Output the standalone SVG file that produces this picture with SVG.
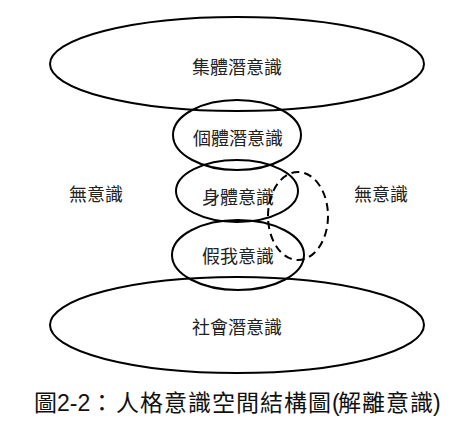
<svg xmlns="http://www.w3.org/2000/svg" width="469" height="432" viewBox="0 0 469 432">
<style>
.e{fill:none;stroke:#000;stroke-width:2}
.d{fill:none;stroke:#000;stroke-width:2;stroke-dasharray:8 5}
.t{font-family:"Noto Sans CJK TC","Noto Sans CJK SC",sans-serif;font-size:18px;fill:#222;text-anchor:middle;dominant-baseline:central}
.c{font-family:"Liberation Sans","Noto Sans CJK TC",sans-serif;font-size:23px;fill:#111}
</style>
<rect width="469" height="432" fill="#fff"/>
<g id="collective">
<ellipse class="e" cx="237" cy="64" rx="187" ry="47"/>
<text class="t" x="237" y="66">集體潛意識</text>
</g>
<g id="individual">
<ellipse class="e" cx="237" cy="135" rx="64" ry="35"/>
<text class="t" x="238" y="137">個體潛意識</text>
</g>
<g id="body">
<ellipse class="e" cx="237" cy="191" rx="61" ry="31"/>
<text class="t" x="238" y="196">身體意識</text>
</g>
<g id="falseself">
<ellipse class="e" cx="238" cy="255" rx="66" ry="35"/>
<text class="t" x="238" y="255">假我意識</text>
</g>
<g id="social">
<ellipse class="e" cx="237" cy="325" rx="187" ry="48"/>
<text class="t" x="237" y="326">社會潛意識</text>
</g>
<g id="unconscious-left">
<text class="t" x="96" y="193">無意識</text>
</g>
<g id="unconscious-right">
<text class="t" x="381" y="193">無意識</text>
</g>
<g id="connectors">
<ellipse class="d" cx="298" cy="216" rx="30" ry="44"/>
</g>
<g id="caption">
<text class="c" x="34 57 69.8 77.5 90.5 116 140 164 188 212 236 260 284 308 332 338 362 386 410 433" y="411">圖2-2：人格意識空間結構圖(解離意識)</text>
</g>
</svg>
